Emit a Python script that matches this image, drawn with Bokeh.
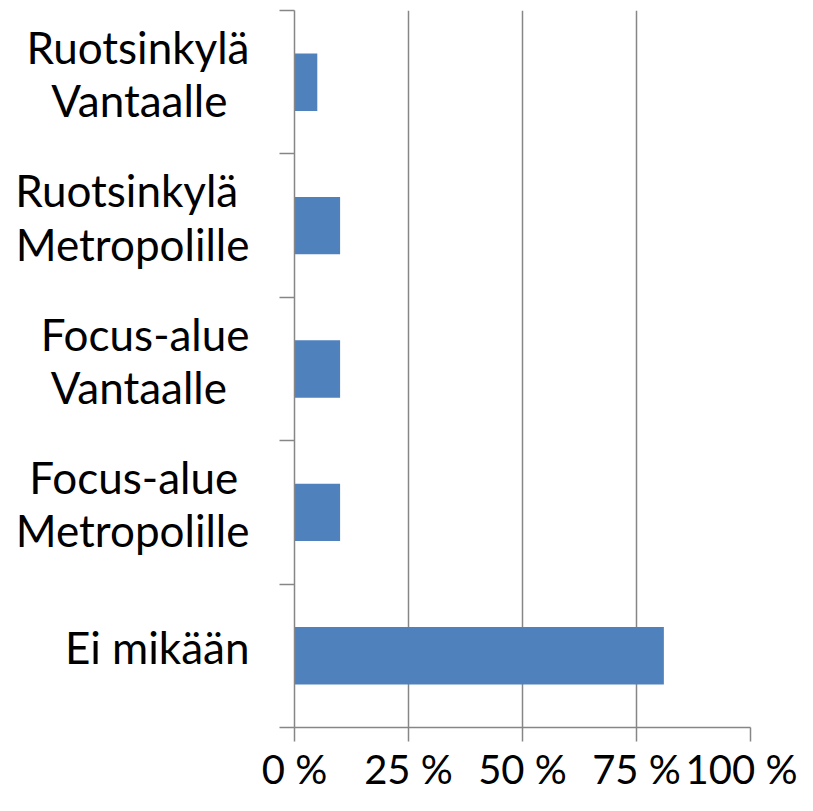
from bokeh.plotting import figure
from bokeh.models import Range1d, FixedTicker, ColumnDataSource
from bokeh.embed import file_html
from bokeh.resources import INLINE

# Data (bottom to top)
categories = ["Ei mikään", "Focus-alue \nMetropolille", "Focus-alue\nVantaalle\u00a0\u00a0",
              "Ruotsinkylä \nMetropolille", "Ruotsinkylä\nVantaalle\u2002"]
values = [81, 10, 10, 10, 5]
x_ticks = [0, 25, 50, 75, 100]
x_tick_labels = ["0 %", "25 %", "50 %", "75 %", "100 %"]

positions = [i + 0.5 for i in range(len(categories))]
boundaries = list(range(len(categories) + 1))
LABEL_NUDGE = 0.06  # small upward nudge so labels sit like the original's
label_positions = [pos + LABEL_NUDGE for pos in positions]

src = ColumnDataSource(dict(y=positions, v=values))

FONT = "Lato"
GREY = "#868686"

p = figure(width=797, height=795, output_backend="svg", toolbar_location=None,
           x_range=Range1d(0, 100), y_range=Range1d(0, len(categories)),
           min_border_left=294, min_border_right=47, min_border_top=10, min_border_bottom=64)
p.outline_line_color = None
p.background_fill_color = "white"

p.hbar(y="y", right="v", left=0, height=0.4, source=src,
       fill_color="#4F81BD", line_color=None)

# x axis
xa = p.xaxis[0]
xa.ticker = FixedTicker(ticks=x_ticks, minor_ticks=[])
xa.major_label_overrides = {t: l for t, l in zip(x_ticks, x_tick_labels)}
xa.axis_line_color = GREY
xa.axis_line_width = 1.5
xa.major_tick_line_color = GREY
xa.major_tick_line_width = 1.5
xa.major_tick_out = 14
xa.major_tick_in = 0
xa.major_label_standoff = 3
xa.major_label_text_font = FONT
xa.major_label_text_font_size = "40px"
xa.major_label_text_color = "black"

# y axis: line + category-boundary ticks (minor), category names (major, no tick line)
ya = p.yaxis[0]
ya.ticker = FixedTicker(ticks=label_positions, minor_ticks=boundaries)
ya.major_label_overrides = {lp: c for lp, c in zip(label_positions, categories)}
ya.axis_line_color = GREY
ya.axis_line_width = 1.5
ya.major_tick_line_color = None
ya.major_tick_out = 0
ya.major_tick_in = 0
ya.minor_tick_line_color = GREY
ya.minor_tick_line_width = 1.5
ya.minor_tick_out = 15
ya.minor_tick_in = 0
ya.major_label_standoff = 30
ya.major_label_text_font = FONT
ya.major_label_text_font_size = "44px"
ya.major_label_text_line_height = 1.02
ya.major_label_text_color = "black"

p.xgrid.ticker = FixedTicker(ticks=x_ticks)
p.xgrid.grid_line_color = GREY
p.xgrid.grid_line_width = 1.5
p.ygrid.grid_line_color = None

open("out.html", "w").write(file_html(p, INLINE))
